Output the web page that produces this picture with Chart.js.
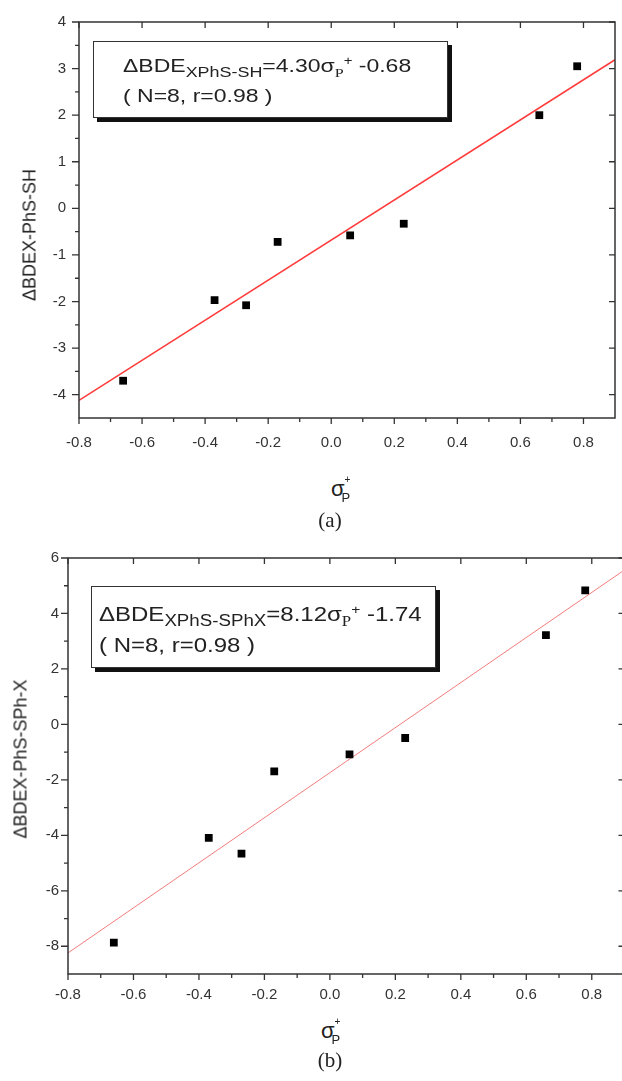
<!DOCTYPE html>
<html>
<head>
<meta charset="utf-8">
<script src="https://cdn.jsdelivr.net/npm/chart.js@4.4.1/dist/chart.umd.min.js"></script>
<style>
    body { margin: 0; background: #fff; width: 622px; height: 1081px; overflow: hidden; position: relative; font-family: "Liberation Sans", Arial, sans-serif; color: #222; }
    canvas { position: absolute; left: 0; }
    #chartA { top: 0; }
    #chartB { top: 540px; }
    .box { position: absolute; border: 1px solid #333; background: #fff; box-shadow: 4px 4px 0 #111; }
    .box .ln { position: absolute; white-space: nowrap; line-height: 20px; transform-origin: left center; }
    .box sub { font-size: 0.78em; vertical-align: -5px; line-height: 0; }
    .box sub.serif { font-family: "Liberation Serif", serif; font-size: 0.7em; }
    .box sup { font-size: 0.65em; vertical-align: 7px; line-height: 0; }
    .ytitle { position: absolute; white-space: nowrap; font-size: 18px; transform: translate(-50%, -50%) rotate(-90deg); }
    .xtitle { position: absolute; white-space: nowrap; font-size: 22px; line-height: 22px; }
    .xtitle .stack { display: inline-block; position: relative; width: 12px; height: 22px; vertical-align: top; }
    .xtitle .sp { position: absolute; left: 0; top: -9px; font-size: 10px; }
    .xtitle .sb { position: absolute; left: -3px; top: 9px; font-size: 13px; }
    .cap { position: absolute; font-family: "Liberation Serif", serif; font-size: 21px; transform: translateX(-50%); }
</style>
</head>
<body>
<canvas id="chartA" width="622" height="470"></canvas>
<canvas id="chartB" width="630" height="470"></canvas>

<div class="ytitle" style="left:30px; top:235px;">ΔBDEX-PhS-SH</div>
<div class="ytitle" style="left:21px; top:759px;">ΔBDEX-PhS-SPh-X</div>

<div class="box" style="left:93px; top:41px; width:353px; height:75px;">
    <div class="ln" style="left:29px; top:14px; font-size:19px; transform:scaleX(1.21);">ΔBDE<sub>XPhS-SH</sub>=4.30σ<sub class="serif">P</sub><sup>+</sup> -0.68</div>
    <div class="ln" style="left:29px; top:44px; font-size:19px; transform:scaleX(1.21);">( N=8, r=0.98 )</div>
</div>
<div class="box" style="left:91px; top:586px; width:343px; height:80px;">
    <div class="ln" style="left:7px; top:17px; font-size:20px; transform:scaleX(1.2);">ΔBDE<sub>XPhS-SPhX</sub>=8.12σ<sub class="serif">P</sub><sup>+</sup> -1.74</div>
    <div class="ln" style="left:7px; top:48px; font-size:20px; transform:scaleX(1.2);">( N=8, r=0.98 )</div>
</div>

<div class="xtitle" style="left:331px; top:478px;">σ<span class="stack"><span class="sp">+</span><span class="sb">P</span></span></div>
<div class="xtitle" style="left:321px; top:1020px;">σ<span class="stack"><span class="sp">+</span><span class="sb">P</span></span></div>
<div class="cap" style="left:330px; top:508px;">(a)</div>
<div class="cap" style="left:330px; top:1048px;">(b)</div>

<script>
// data
const sigmaP = [-0.66, -0.37, -0.27, -0.17, 0.06, 0.23, 0.66, 0.78];
const bdeSH = [-3.70, -1.97, -2.08, -0.72, -0.58, -0.33, 2.00, 3.05];
const bdeSPhX = [-7.87, -4.09, -4.66, -1.69, -1.08, -0.49, 3.22, 4.83];

// ends of the fitted lines
const fitX = [-0.8, 0.9];
const fitSH = [-4.12, 3.19];
const fitSPhX = [-8.24, 5.57];

// tick values and labels
const xTicks = [-0.8, -0.6, -0.4, -0.2, 0.0, 0.2, 0.4, 0.6, 0.8];
const xTickLabels = ['-0.8', '-0.6', '-0.4', '-0.2', '0.0', '0.2', '0.4', '0.6', '0.8'];
const yTicksA = [-4, -3, -2, -1, 0, 1, 2, 3, 4];
const yTickLabelsA = ['-4', '-3', '-2', '-1', '0', '1', '2', '3', '4'];
const yTicksB = [-8, -6, -4, -2, 0, 2, 4, 6];
const yTickLabelsB = ['-8', '-6', '-4', '-2', '0', '2', '4', '6'];

const tickFont = { family: "'Liberation Sans', Arial, sans-serif", size: 15 };

function toPoints(xs, ys) {
    return xs.map((x, i) => ({ x: x, y: ys[i] }));
}

// minor ticks sit half way between major ones
function midpoints(vals) {
    let out = [];
    for (let i = 0; i < vals.length - 1; i++) out.push((vals[i] + vals[i + 1]) / 2);
    return out;
}

// frame with Origin style ticks: out on left/bottom, in on top/right
const framePlugin = {
    id: 'frame',
    afterDraw(chart) {
        const { ctx, chartArea: a, scales } = chart;
        const xs = scales.x, ys = scales.y;
        const xMaj = xs.options.majors, yMaj = ys.options.majors;
        ctx.save();
        ctx.strokeStyle = '#333';
        ctx.lineWidth = 1.5;
        ctx.strokeRect(a.left, a.top, a.right - a.left, a.bottom - a.top);
        ctx.lineWidth = 1.3;
        ctx.beginPath();
        xMaj.forEach(v => {
            const p = xs.getPixelForValue(v);
            ctx.moveTo(p, a.bottom); ctx.lineTo(p, a.bottom + 6);
            ctx.moveTo(p, a.top); ctx.lineTo(p, a.top + 6);
        });
        midpoints(xMaj).forEach(v => {
            const p = xs.getPixelForValue(v);
            ctx.moveTo(p, a.bottom); ctx.lineTo(p, a.bottom + 4);
        });
        yMaj.forEach(v => {
            const p = ys.getPixelForValue(v);
            ctx.moveTo(a.left, p); ctx.lineTo(a.left - 7, p);
            ctx.moveTo(a.right, p); ctx.lineTo(a.right - 6, p);
        });
        midpoints(yMaj).forEach(v => {
            const p = ys.getPixelForValue(v);
            ctx.moveTo(a.left, p); ctx.lineTo(a.left - 4, p);
        });
        ctx.stroke();
        ctx.restore();
    }
};

function makeChart(id, ys, fitYs, lineColor, lineWidth, cfg) {
    const ctx = document.getElementById(id).getContext('2d');
    return new Chart(ctx, {
        type: 'scatter',
        data: {
            datasets: [{
                data: toPoints(sigmaP, ys),
                backgroundColor: '#000',
                borderWidth: 0,
                pointStyle: 'rect',
                pointRadius: 5.5,
                order: 0
            }, {
                type: 'line',
                data: toPoints(fitX, fitYs),
                borderColor: lineColor,
                borderWidth: lineWidth,
                pointRadius: 0,
                fill: false,
                order: 1
            }]
        },
        options: {
            responsive: false,
            animation: false,
            layout: { padding: { top: cfg.padTop, right: cfg.padRight, left: 0, bottom: 0 } },
            plugins: { legend: { display: false }, tooltip: { enabled: false } },
            scales: {
                x: {
                    type: 'linear',
                    min: -0.8,
                    max: 0.9,
                    majors: xTicks,
                    grid: { display: false, drawTicks: false },
                    border: { display: false },
                    afterBuildTicks: s => { s.ticks = xTicks.map(v => ({ value: v })); },
                    afterFit: s => { s.height = cfg.xHeight; },
                    ticks: {
                        font: tickFont,
                        color: '#333',
                        padding: cfg.xPad,
                        maxRotation: 0,
                        callback: (v, i) => xTickLabels[i]
                    }
                },
                y: {
                    type: 'linear',
                    min: cfg.yMin,
                    max: cfg.yMax,
                    majors: cfg.yTicks,
                    grid: { display: false, drawTicks: false },
                    border: { display: false },
                    afterBuildTicks: s => { s.ticks = cfg.yTicks.map(v => ({ value: v })); },
                    afterFit: s => { s.width = cfg.yWidth; },
                    ticks: {
                        font: tickFont,
                        color: '#333',
                        padding: cfg.yPad,
                        callback: (v, i) => cfg.yLabels[i]
                    }
                }
            }
        },
        plugins: [framePlugin]
    });
}

let chartA = makeChart('chartA', bdeSH, fitSH, '#ff3b3b', 1.5, {
    padTop: 20, padRight: 7, xHeight: 52, yWidth: 79, xPad: 16, yPad: 13,
    yMin: -4.5, yMax: 4, yTicks: yTicksA, yLabels: yTickLabelsA
});

let chartB = makeChart('chartB', bdeSPhX, fitSPhX, '#f27d7d', 1, {
    padTop: 18, padRight: 5, xHeight: 36, yWidth: 68, xPad: 12, yPad: 9,
    yMin: -9, yMax: 6, yTicks: yTicksB, yLabels: yTickLabelsB
});
</script>
</body>
</html>
